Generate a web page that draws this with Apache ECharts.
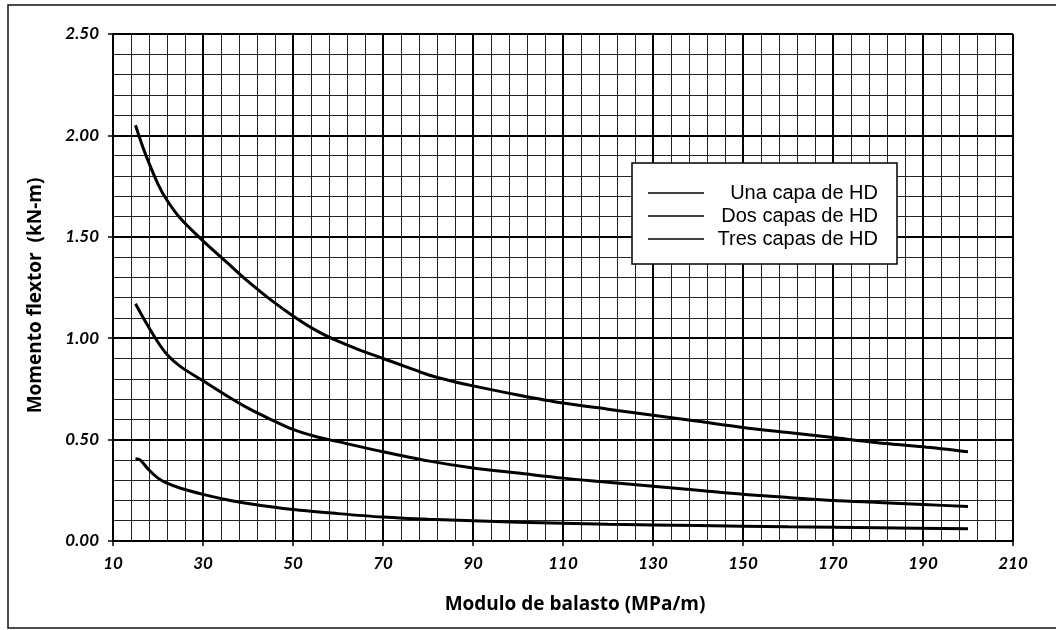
<!DOCTYPE html>
<html>
<head>
<meta charset="utf-8">
<script src="https://cdn.jsdelivr.net/npm/echarts@6/dist/echarts.min.js"></script>
<style>html,body{margin:0;padding:0;background:#fff;}#c{width:1056px;height:630px;}</style>
</head>
<body>
<div id="c"></div>
<script>
const seriesNames = ['Una capa de HD', 'Dos capas de HD', 'Tres capas de HD'];
const unaX = [15, 17, 20, 22, 25, 30, 35, 40, 45, 50, 55, 60, 65, 70, 75, 80, 85, 90, 100, 110, 120, 130, 140, 150, 160, 170, 180, 190, 200];
const unaY = [2.05, 1.92, 1.76, 1.68, 1.59, 1.48, 1.38, 1.28, 1.19, 1.11, 1.04, 0.985, 0.94, 0.90, 0.86, 0.82, 0.79, 0.765, 0.72, 0.68, 0.65, 0.62, 0.59, 0.56, 0.535, 0.51, 0.485, 0.465, 0.44];
const dosX = [15, 17, 20, 22, 25, 30, 35, 40, 45, 50, 55, 60, 70, 80, 90, 100, 110, 120, 130, 140, 150, 160, 170, 180, 190, 200];
const dosY = [1.17, 1.09, 0.98, 0.92, 0.86, 0.79, 0.72, 0.655, 0.60, 0.55, 0.515, 0.49, 0.44, 0.395, 0.36, 0.335, 0.31, 0.29, 0.27, 0.25, 0.23, 0.215, 0.20, 0.19, 0.18, 0.17];
const tresX = [15, 16, 18, 20, 22, 25, 30, 35, 40, 50, 60, 70, 80, 90, 100, 120, 140, 160, 180, 200];
const tresY = [0.405, 0.40, 0.35, 0.31, 0.285, 0.26, 0.23, 0.205, 0.185, 0.155, 0.135, 0.118, 0.107, 0.10, 0.093, 0.083, 0.076, 0.07, 0.065, 0.06];
const xTitle = 'Modulo de balasto (MPa/m)';
const yTitle = 'Momento flextor  (kN-m)';

function pairs(xs, ys) { return xs.map((x, i) => [x, ys[i]]); }

const chart = echarts.init(document.getElementById('c'), null, {renderer: 'canvas'});
const tickFont = {fontFamily: 'Lato', fontWeight: 'bold', fontStyle: 'italic', fontSize: 17, color: '#000'};
const titleFont = {fontFamily: 'Open Sans', fontWeight: 'bold', fontSize: 19, color: '#000'};
const lineSeries = (name, xs, ys) => ({
  name: name, type: 'line', data: pairs(xs, ys), symbol: 'none', showSymbol: false, smooth: 0.3,
  lineStyle: {color: '#000', width: 3}, itemStyle: {color: '#000'}, z: 5
});
chart.setOption({
  animation: false,
  backgroundColor: '#fff',
  grid: {left: 113, right: 43, top: 34, bottom: 89},
  graphic: [{
    type: 'rect', shape: {x: 8, y: 5, width: 1060, height: 623},
    style: {fill: 'none', stroke: '#111', lineWidth: 1.5}, z: -1
  }],
  legend: {
    data: seriesNames.map(n => ({name: n, icon: 'rect'})), orient: 'vertical', left: 632, top: 163,
    backgroundColor: '#fff', borderColor: '#000', borderWidth: 1.5,
    padding: [20, 19, 15, 16], itemWidth: 56, itemHeight: 1.3, itemGap: 3, itemTextGap: 0,
    itemStyle: {color: '#000', borderWidth: 0},
    lineStyle: {width: 0},
    formatter: n => '{r|' + n + '}',
    textStyle: {
      fontFamily: 'Liberation Sans', fontSize: 20, color: '#000',
      rich: {r: {fontFamily: 'Liberation Sans', fontSize: 20, color: '#000', width: 169, align: 'right', lineHeight: 21}}
    }
  },
  xAxis: {
    type: 'value', min: 10, max: 210, interval: 20,
    name: xTitle, nameLocation: 'middle', nameGap: 54,
    nameTextStyle: Object.assign({padding: [0, 0, 0, 24]}, titleFont),
    axisLine: {show: true, onZero: false, lineStyle: {color: '#000', width: 2}},
    axisTick: {show: true, length: 5, lineStyle: {color: '#000', width: 1.5}},
    minorTick: {show: false, splitNumber: 5},
    axisLabel: Object.assign({margin: 14}, tickFont),
    splitLine: {show: true, lineStyle: {color: '#000', width: 2}},
    minorSplitLine: {show: true, lineStyle: {color: '#222', width: 1}}
  },
  yAxis: {
    type: 'value', min: 0, max: 2.5, interval: 0.5,
    name: yTitle, nameLocation: 'middle', nameGap: 68, nameRotate: 90,
    nameTextStyle: Object.assign({padding: [0, 16, 0, 0]}, titleFont),
    axisLine: {show: true, lineStyle: {color: '#000', width: 2}},
    axisTick: {show: true, length: 5, lineStyle: {color: '#000', width: 1.5}},
    minorTick: {show: false, splitNumber: 5},
    axisLabel: Object.assign({margin: 14, formatter: v => v.toFixed(2)}, tickFont),
    splitLine: {show: true, lineStyle: {color: '#000', width: 2}},
    minorSplitLine: {show: true, lineStyle: {color: '#222', width: 1}}
  },
  series: [
    lineSeries(seriesNames[0], unaX, unaY),
    lineSeries(seriesNames[1], dosX, dosY),
    lineSeries(seriesNames[2], tresX, tresY)
  ]
});
</script>
</body>
</html>
